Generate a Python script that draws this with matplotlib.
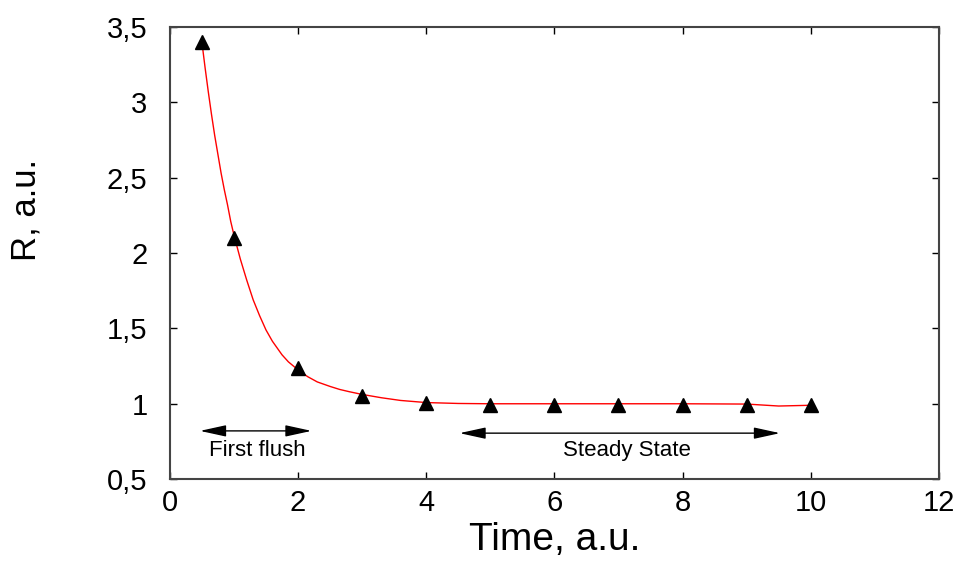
import numpy as np
import matplotlib
matplotlib.use("Agg")
import matplotlib.pyplot as plt

plt.rcParams['font.family'] = ['Liberation Sans', 'DejaVu Sans']

# measured points
t_meas = [0.5, 1, 2, 3, 4, 5, 6, 7, 8, 9, 10]
r_meas = [3.40, 2.10, 1.24, 1.05, 1.005, 0.995, 0.995, 0.995, 0.995, 0.995, 0.99]

# red fit curve
t_fit = [0.5, 0.55, 0.6, 0.65, 0.7, 0.75, 0.8, 0.85, 0.9, 0.95, 1.0, 1.1, 1.2, 1.3,
         1.4, 1.5, 1.6, 1.75, 1.85, 2.0, 2.15, 2.3, 2.5, 2.65, 2.8, 3.0, 3.3, 3.6,
         4.0, 4.5, 5.0, 6.0, 7.0, 8.0, 9.0, 9.5, 10.0]
r_fit = [3.40, 3.23, 3.07, 2.92, 2.78, 2.655, 2.53, 2.42, 2.32, 2.21, 2.12, 1.96,
         1.82, 1.69, 1.585, 1.49, 1.415, 1.325, 1.278, 1.225, 1.18, 1.145, 1.115,
         1.095, 1.08, 1.062, 1.04, 1.022, 1.008, 1.002, 1.0, 1.0, 1.0, 1.0, 0.998,
         0.985, 0.99]

x_ticks = [0, 2, 4, 6, 8, 10, 12]
y_ticks = [0.5, 1, 1.5, 2, 2.5, 3, 3.5]
y_labels = ['0,5', '1', '1,5', '2', '2,5', '3', '3,5']

fig = plt.figure(figsize=(9.65, 5.63), dpi=100)
ax = fig.add_axes([0.176, 0.149, 0.797, 0.803])

ax.plot(t_fit, r_fit, color='red', linewidth=1.0, zorder=2)
ax.plot(t_meas, r_meas, linestyle='none', marker='^', markersize=10,
        color='black', zorder=3)

ax.set_xlim(0, 12)
ax.set_ylim(0.5, 3.5)
ax.set_xticks(x_ticks)
ax.set_xticklabels([str(v) for v in x_ticks])
ax.set_yticks(y_ticks)
ax.set_yticklabels(y_labels)
ax.tick_params(direction='in', length=5, width=1, top=True, right=True,
               labelsize=21, pad=7, colors='black')
ax.tick_params(axis='y', pad=16)
for s in ax.spines.values():
    s.set_color('#444444')
    s.set_linewidth(1.5)

ax.set_xlabel('Time, a.u.', fontsize=28, labelpad=4)
ax.set_ylabel('R, a.u.', fontsize=25)
ax.yaxis.set_label_coords(-0.166, 0.595)

arrow_kw = dict(arrowstyle='<|-|>,head_length=1.6,head_width=0.35',
                color='black', lw=1.0, shrinkA=0, shrinkB=0)
ax.annotate('', xy=(0.47, 0.82), xytext=(2.21, 0.82), arrowprops=arrow_kw)
ax.text(1.36, 0.69, 'First flush', fontsize=16, ha='center', va='center')
ax.annotate('', xy=(4.52, 0.805), xytext=(9.52, 0.805), arrowprops=arrow_kw)
ax.text(7.13, 0.69, 'Steady State', fontsize=16, ha='center', va='center')

fig.savefig('out.png', dpi=100)
